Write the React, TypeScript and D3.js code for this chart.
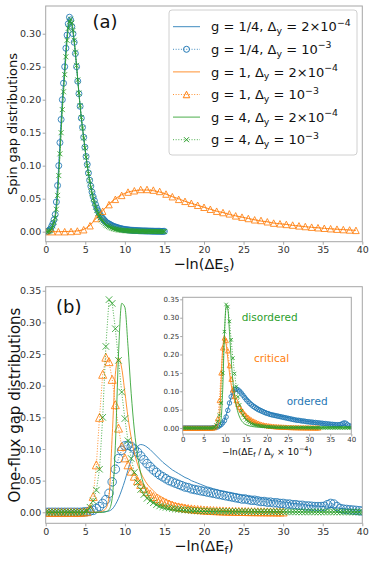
import React, { useEffect, useRef } from "react";
import * as d3 from "d3";

const FONT = "DejaVu Sans, sans-serif";
const BLUE = "#1f77b4";
const ORANGE = "#ff7f0e";
const GREEN = "#2ca02c";
const SPINE = "#a6a6a6";

// ---------- panel (a): spin gap distributions ----------
// markers for g = 1/4 and g = 4 : x = 0.15, 0.30, ... 15.0
const spinDotStart = 0.15;
const spinDotStep = 0.15;
const spinBlueDots = [
  0.000, 0.001, 0.002, 0.004, 0.008, 0.012, 0.018, 0.026, 0.045, 0.070,
  0.100, 0.135, 0.170, 0.200, 0.225, 0.250, 0.278, 0.298, 0.315, 0.325,
  0.321, 0.311, 0.300, 0.287, 0.270, 0.250, 0.228, 0.209, 0.190, 0.172,
  0.158, 0.143, 0.128, 0.114, 0.102, 0.089, 0.078, 0.069, 0.060, 0.053,
  0.047, 0.041, 0.036, 0.032, 0.028, 0.025, 0.022, 0.020, 0.018, 0.016,
  0.014, 0.013, 0.012, 0.011, 0.010, 0.009, 0.008, 0.0075, 0.007, 0.0063,
  0.0057, 0.0052, 0.0047, 0.0043, 0.0039, 0.0036, 0.0033, 0.0030, 0.0028, 0.0026,
  0.0024, 0.0022, 0.0020, 0.0019, 0.0018, 0.0017, 0.0016, 0.0015, 0.0014, 0.0013,
  0.0012, 0.0012, 0.0011, 0.0011, 0.0010, 0.0010, 0.0009, 0.0009, 0.0008, 0.0008,
  0.0007, 0.0007, 0.0007, 0.0006, 0.0006, 0.0006, 0.0005, 0.0005, 0.0005, 0.0005,
];
const spinGreenDots = [
  0.000, 0.000, 0.001, 0.002, 0.005, 0.009, 0.014, 0.021, 0.034, 0.055,
  0.085, 0.118, 0.150, 0.185, 0.212, 0.238, 0.265, 0.290, 0.308, 0.318,
  0.322, 0.316, 0.305, 0.290, 0.272, 0.252, 0.230, 0.210, 0.191, 0.173,
  0.157, 0.142, 0.127, 0.113, 0.100, 0.088, 0.077, 0.067, 0.058, 0.050,
  0.043, 0.037, 0.032, 0.028, 0.024, 0.021, 0.018, 0.016, 0.014, 0.012,
  0.010, 0.009, 0.008, 0.007, 0.006, 0.0053, 0.0047, 0.0042, 0.0037, 0.0033,
  0.0029, 0.0026, 0.0023, 0.0021, 0.0019, 0.0017, 0.0015, 0.0014, 0.0013, 0.0012,
  0.0011, 0.0010, 0.0009, 0.0009, 0.0008, 0.0008, 0.0007, 0.0007, 0.0006, 0.0006,
  0.0006, 0.0005, 0.0005, 0.0005, 0.0004, 0.0004, 0.0004, 0.0004, 0.0003, 0.0003,
  0.0003, 0.0003, 0.0003, 0.0002, 0.0002, 0.0002, 0.0002, 0.0002, 0.0002, 0.0002,
];
// lines: x = 0, 0.3, ... 15
const spinLineStart = 0;
const spinLineStep = 0.3;
const spinBlueLine = [
  0, 0.001, 0.004, 0.012, 0.026, 0.070, 0.135, 0.200, 0.250, 0.298,
  0.324, 0.312, 0.287, 0.250, 0.209, 0.172, 0.143, 0.114, 0.089, 0.069,
  0.053, 0.041, 0.032, 0.025, 0.020, 0.016, 0.013, 0.011, 0.009, 0.0075,
  0.0063, 0.0052, 0.0043, 0.0036, 0.0030, 0.0026, 0.0022, 0.0019, 0.0017, 0.0015,
  0.0013, 0.0012, 0.0011, 0.0010, 0.0009, 0.0008, 0.0007, 0.0007, 0.0006, 0.0005,
  0.0005,
];
const spinGreenLine = [
  0, 0, 0.002, 0.009, 0.021, 0.055, 0.118, 0.185, 0.238, 0.290,
  0.318, 0.316, 0.290, 0.252, 0.210, 0.173, 0.142, 0.113, 0.088, 0.067,
  0.050, 0.037, 0.028, 0.021, 0.016, 0.012, 0.009, 0.007, 0.0053, 0.0042,
  0.0033, 0.0026, 0.0021, 0.0017, 0.0014, 0.0012, 0.0010, 0.0009, 0.0008, 0.0007,
  0.0006, 0.0005, 0.0005, 0.0004, 0.0004, 0.0003, 0.0003, 0.0003, 0.0002, 0.0002,
  0.0002,
];
// g = 1 : x = 0, 0.8, ... 39.2
const spinOrangeStart = 0;
const spinOrangeStep = 0.8;
const spinOrangeLine = [
  0, 0, 0, 0.0002, 0.0005, 0.0012, 0.0035, 0.010, 0.021, 0.032,
  0.042, 0.050, 0.056, 0.060, 0.062, 0.063, 0.063, 0.062, 0.060, 0.057,
  0.053, 0.050, 0.046, 0.043, 0.040, 0.037, 0.034, 0.031, 0.029, 0.026,
  0.024, 0.022, 0.020, 0.018, 0.016, 0.015, 0.013, 0.012, 0.011, 0.0095,
  0.0085, 0.0075, 0.0066, 0.0058, 0.0050, 0.0043, 0.0037, 0.0031, 0.0025, 0.0020,
];
const spinOrangeDots = [
  0, 0, 0, 0, 0.0003, 0.001, 0.003, 0.009, 0.020, 0.031,
  0.041, 0.049, 0.055, 0.060, 0.062, 0.064, 0.064, 0.063, 0.061, 0.057,
  0.053, 0.049, 0.046, 0.043, 0.040, 0.037, 0.034, 0.031, 0.029, 0.027,
  0.024, 0.022, 0.020, 0.018, 0.017, 0.015, 0.013, 0.012, 0.011, 0.010,
  0.0088, 0.0078, 0.0068, 0.0060, 0.0052, 0.0045, 0.0038, 0.0032, 0.0026, 0.0020,
];

// ---------- panel (b): one-flux gap distributions ----------
// markers (Δy = 1e-3): x = -2.4, -2.0, ... ; lines (Δy = 2e-4): x = -0.8, -0.4, ...
const fluxDotStart = -2.4;
const fluxLineStart = -0.8;
const fluxStep = 0.4;
const fluxBlueDots = [
  0, 0, 0, 0, 0, 0, 0, 0, 0, 0,
  0, 0, 0, 0, 0, 0, 0, 0, 0.0005, 0.001,
  0.002, 0.003, 0.006, 0.009, 0.014, 0.020, 0.030, 0.048, 0.068, 0.085,
  0.098, 0.105, 0.106, 0.104, 0.100, 0.095, 0.089, 0.083, 0.077, 0.072,
  0.067, 0.063, 0.059, 0.056, 0.053, 0.050, 0.048, 0.046, 0.044, 0.042,
  0.040, 0.039, 0.037, 0.036, 0.035, 0.034, 0.033, 0.032, 0.031, 0.030,
  0.029, 0.028, 0.027, 0.026, 0.025, 0.024, 0.023, 0.022, 0.021, 0.021,
  0.020, 0.019, 0.019, 0.018, 0.017, 0.017, 0.016, 0.016, 0.015, 0.015,
  0.014, 0.014, 0.013, 0.013, 0.012, 0.012, 0.011, 0.011, 0.010, 0.010,
  0.0095, 0.009, 0.009, 0.009, 0.0095, 0.012, 0.014, 0.013, 0.009, 0.006,
  0.005, 0.0045, 0.004, 0.0035, 0.003, 0.0025, 0.002,
];
const fluxBlueLine = [
  0, 0, 0, 0, 0, 0, 0, 0, 0, 0,
  0, 0, 0, 0, 0, 0, 0, 0, 0, 0,
  0.0005, 0.001, 0.002, 0.005, 0.012, 0.022, 0.035, 0.050, 0.067, 0.083,
  0.096, 0.104, 0.107, 0.106, 0.103, 0.099, 0.094, 0.089, 0.084, 0.079,
  0.075, 0.071, 0.067, 0.064, 0.061, 0.058, 0.055, 0.053, 0.050, 0.048,
  0.046, 0.044, 0.042, 0.040, 0.039, 0.037, 0.036, 0.034, 0.033, 0.032,
  0.031, 0.030, 0.029, 0.028, 0.027, 0.026, 0.025, 0.024, 0.023, 0.022,
  0.021, 0.021, 0.020, 0.019, 0.018, 0.018, 0.017, 0.016, 0.016, 0.015,
  0.014, 0.014, 0.013, 0.013, 0.012, 0.011, 0.011, 0.010, 0.010, 0.009,
  0.009, 0.008, 0.008, 0.007, 0.007, 0.006, 0.006, 0.005, 0.005, 0.004,
  0.004, 0.003, 0.003,
];
const fluxOrangeDots = [
  0, 0, 0, 0, 0, 0, 0, 0, 0, 0,
  0, 0, 0, 0, 0, 0, 0, 0, 0.0005, 0.001,
  0.006, 0.025, 0.075, 0.150, 0.218, 0.245, 0.238, 0.210, 0.170, 0.133,
  0.104, 0.086, 0.075, 0.065, 0.057, 0.050, 0.044, 0.038, 0.033, 0.029,
  0.025, 0.022, 0.019, 0.017, 0.015, 0.013, 0.011, 0.0095, 0.0085, 0.0075,
  0.0067, 0.0060, 0.0054, 0.0049, 0.0044, 0.0040, 0.0036, 0.0033, 0.0030, 0.0027,
  0.0025, 0.0023, 0.0021, 0.0019, 0.0018, 0.0016, 0.0015, 0.0014, 0.0013, 0.0012,
  0.0011, 0.0010, 0.0010, 0.0009, 0.0008, 0.0008, 0.0007, 0.0007, 0.0006, 0.0006,
  0.0005, 0.0005,
];
const fluxOrangeLine = [
  0, 0, 0, 0, 0, 0, 0, 0, 0, 0,
  0, 0, 0, 0, 0, 0, 0, 0, 0, 0.0005,
  0.002, 0.006, 0.025, 0.120, 0.218, 0.244, 0.228, 0.190, 0.150, 0.118,
  0.094, 0.076, 0.063, 0.053, 0.045, 0.039, 0.034, 0.029, 0.026, 0.023,
  0.020, 0.018, 0.016, 0.014, 0.013, 0.012, 0.011, 0.0095, 0.0085, 0.0077,
  0.0070, 0.0063, 0.0057, 0.0052, 0.0047, 0.0043, 0.0039, 0.0035, 0.0032, 0.0029,
  0.0027, 0.0025, 0.0023, 0.0021, 0.0019, 0.0018, 0.0016, 0.0015, 0.0014, 0.0013,
  0.0012, 0.0011, 0.0010, 0.0010, 0.0009, 0.0008, 0.0008, 0.0007,
];
const fluxGreenDots = [
  0, 0, 0, 0, 0, 0, 0, 0, 0, 0,
  0, 0, 0, 0, 0, 0, 0, 0, 0, 0.002,
  0.008, 0.018, 0.035, 0.068, 0.150, 0.262, 0.336, 0.330, 0.290, 0.240,
  0.190, 0.148, 0.113, 0.085, 0.063, 0.047, 0.036, 0.028, 0.022, 0.018,
  0.015, 0.012, 0.010, 0.0088, 0.0077, 0.0068, 0.0060, 0.0053, 0.0047, 0.0042,
  0.0037, 0.0033, 0.0030, 0.0027, 0.0024, 0.0022, 0.0020, 0.0019, 0.0018, 0.0017,
  0.0016, 0.0015, 0.0014, 0.0013, 0.0013, 0.0012, 0.0012, 0.0011, 0.0011, 0.0010,
  0.0010, 0.0010, 0.0009, 0.0009, 0.0009, 0.0008, 0.0008, 0.0008, 0.0007, 0.0007,
  0.0007, 0.0007, 0.0006, 0.0006, 0.0006, 0.0006, 0.0006, 0.0005, 0.0005, 0.0005,
  0.0005, 0.0005, 0.0005, 0.0005, 0.0005, 0.0005, 0.0005, 0.0005, 0.0005, 0.0005,
  0.0004, 0.0004, 0.0004, 0.0004, 0.0004, 0.0004, 0.0004,
];
const fluxGreenLine = [
  0, 0, 0, 0, 0, 0, 0, 0, 0, 0,
  0, 0, 0, 0, 0, 0, 0, 0, 0, 0,
  0, 0.001, 0.004, 0.022, 0.105, 0.250, 0.330, 0.324, 0.262, 0.188,
  0.130, 0.090, 0.062, 0.043, 0.030, 0.021, 0.015, 0.011, 0.0085, 0.0067,
  0.0054, 0.0044, 0.0037, 0.0031, 0.0027, 0.0024, 0.0021, 0.0019, 0.0017, 0.0016,
  0.0015, 0.0014, 0.0013, 0.0012, 0.0011, 0.0010, 0.0010, 0.0009, 0.0009, 0.0008,
  0.0008, 0.0008, 0.0007, 0.0007, 0.0007, 0.0006, 0.0006, 0.0006, 0.0005, 0.0005,
  0.0005, 0.0005, 0.0005, 0.0005, 0.0005, 0.0005, 0.0005, 0.0005, 0.0005, 0.0005,
  0.0005, 0.0005, 0.0005, 0.0005, 0.0005, 0.0005, 0.0005, 0.0005, 0.0005, 0.0005,
  0.0004, 0.0004, 0.0004, 0.0004, 0.0004, 0.0004, 0.0004, 0.0004, 0.0004, 0.0004,
  0.0004, 0.0004, 0.0004,
];
// inset abscissa: -ln(ΔE_f / Δy × 10^-4) = -ln(ΔE_f) + ln(Δy · 10^4)
const insetShiftLine = Math.log(2e-4 * 1e4);
const insetShiftDots = Math.log(1e-3 * 1e4);

const xTicks = [0, 5, 10, 15, 20, 25, 30, 35, 40];
const spinYTicks = [0, 0.05, 0.1, 0.15, 0.2, 0.25, 0.3];
const fluxYTicks = [0, 0.05, 0.1, 0.15, 0.2, 0.25, 0.3, 0.35];

type Part = [string, "" | "sub" | "sup"];
const legendLabels: Part[][] = [
  [["g = 1/4, Δ", ""], ["y", "sub"], [" = 2×10", ""], ["−4", "sup"]],
  [["g = 1/4, Δ", ""], ["y", "sub"], [" = 10", ""], ["−3", "sup"]],
  [["g = 1, Δ", ""], ["y", "sub"], [" = 2×10", ""], ["−4", "sup"]],
  [["g = 1, Δ", ""], ["y", "sub"], [" = 10", ""], ["−3", "sup"]],
  [["g = 4, Δ", ""], ["y", "sub"], [" = 2×10", ""], ["−4", "sup"]],
  [["g = 4, Δ", ""], ["y", "sub"], [" = 10", ""], ["−3", "sup"]],
];
const regimeLabels = ["disordered", "critical", "ordered"];

type Mk = "o" | "^" | "x" | null;

const toPts = (start: number, step: number, ys: number[], shift = 0) =>
  ys.map((v, i) => [start + i * step + shift, v] as [number, number]);

const markerPath = (m: Mk, s: number) => {
  const h = s / 2;
  if (m === "o") return `M${h},0A${h},${h} 0 1,1 ${-h},0A${h},${h} 0 1,1 ${h},0Z`;
  if (m === "^") return `M0,${-h}L${-h},${h}L${h},${h}Z`;
  return `M${-h},${-h}L${h},${h}M${-h},${h}L${h},${-h}`;
};

const rich = (t: any, parts: Part[], fs: number) => {
  let cur = 0;
  parts.forEach(([s, k]) => {
    const target = k === "sub" ? fs * 0.22 : k === "sup" ? -fs * 0.42 : 0;
    t.append("tspan")
      .attr("dy", target - cur)
      .attr("font-size", k ? fs * 0.72 : fs)
      .text(s);
    cur = target;
  });
};

const series = (
  g: any, x: any, y: any, pts: [number, number][],
  color: string, dotted: boolean, mk: Mk, size: number, smooth = false
) => {
  const line = d3.line<[number, number]>()
    .x((d) => x(d[0]))
    .y((d) => y(d[1]))
    .curve(smooth ? d3.curveMonotoneX : d3.curveLinear);
  g.append("path")
    .datum(pts)
    .attr("fill", "none")
    .attr("stroke", color)
    .attr("stroke-width", 1)
    .attr("stroke-opacity", 0.85)
    .attr("stroke-dasharray", dotted ? "1 1.65" : null)
    .attr("d", line);
  if (mk) {
    g.append("g")
      .selectAll("path")
      .data(pts)
      .join("path")
      .attr("transform", (d: [number, number]) => `translate(${x(d[0])},${y(d[1])})`)
      .attr("d", markerPath(mk, size))
      .attr("fill", "none")
      .attr("stroke", color)
      .attr("stroke-opacity", 0.85)
      .attr("stroke-width", 1);
  }
};

type Box = { l: number; r: number; t: number; b: number; y0: number; y1: number };

const axes = (
  svg: any, defs: any, id: string, box: Box, yTicks: number[],
  fs: number, tick: number, pad: number, bg = false
) => {
  const x = d3.scaleLinear().domain([0, 40]).range([box.l, box.r]);
  const y = d3.scaleLinear().domain([box.y0, box.y1]).range([box.b, box.t]);
  defs.append("clipPath").attr("id", id).append("rect")
    .attr("x", box.l).attr("y", box.t)
    .attr("width", box.r - box.l).attr("height", box.b - box.t);
  if (bg) {
    svg.append("rect").attr("x", box.l).attr("y", box.t)
      .attr("width", box.r - box.l).attr("height", box.b - box.t).attr("fill", "#fff");
  }
  const style = (a: any) => {
    a.attr("font-family", FONT).attr("font-size", fs);
    a.select(".domain").remove();
    a.selectAll(".tick line").attr("stroke", SPINE);
    a.selectAll(".tick text").attr("fill", "#333");
  };
  svg.append("g").attr("transform", `translate(0,${box.b})`)
    .call(d3.axisBottom(x).tickValues(xTicks).tickFormat(d3.format("d")).tickSize(tick).tickPadding(pad))
    .call(style);
  svg.append("g").attr("transform", `translate(${box.l},0)`)
    .call(d3.axisLeft(y).tickValues(yTicks).tickFormat(d3.format(".2f")).tickSize(tick).tickPadding(pad))
    .call(style);
  const plot = svg.append("g").attr("clip-path", `url(#${id})`);
  const frame = () =>
    svg.append("rect").attr("x", box.l).attr("y", box.t)
      .attr("width", box.r - box.l).attr("height", box.b - box.t)
      .attr("fill", "none").attr("stroke", SPINE).attr("stroke-width", 1);
  return { x, y, plot, frame };
};

const drawChart = (el: SVGSVGElement) => {
  const svg = d3.select(el);
  svg.selectAll("*").remove();
  svg.attr("font-family", FONT);
  const defs = svg.append("defs");

  // ---------- (a) ----------
  const A = axes(svg, defs, "clipA",
    { l: 45.7, r: 362.3, t: 6, b: 241.7, y0: -0.0152, y1: 0.342 },
    spinYTicks, 9.5, 3, 1.5);
  series(A.plot, A.x, A.y, toPts(spinLineStart, spinLineStep, spinBlueLine), BLUE, false, null, 0, true);
  series(A.plot, A.x, A.y, toPts(spinDotStart, spinDotStep, spinBlueDots), BLUE, true, "o", 6);
  series(A.plot, A.x, A.y, toPts(spinOrangeStart, spinOrangeStep, spinOrangeLine), ORANGE, false, null, 0, true);
  series(A.plot, A.x, A.y, toPts(spinOrangeStart, spinOrangeStep, spinOrangeDots), ORANGE, true, "^", 6.5);
  series(A.plot, A.x, A.y, toPts(spinLineStart, spinLineStep, spinGreenLine), GREEN, false, null, 0, true);
  series(A.plot, A.x, A.y, toPts(spinDotStart, spinDotStep, spinGreenDots), GREEN, true, "x", 5);
  A.frame();

  svg.append("text").attr("x", 92.5).attr("y", 28).attr("font-size", 18).attr("fill", "#111").text("(a)");

  // legend
  const lg = svg.append("g");
  lg.append("rect").attr("x", 169).attr("y", 10).attr("width", 188).attr("height", 145)
    .attr("rx", 3).attr("fill", "#fff").attr("fill-opacity", 0.85).attr("stroke", "#d0d0d0");
  const legendStyle: [string, boolean, Mk, number][] = [
    [BLUE, false, null, 0], [BLUE, true, "o", 6],
    [ORANGE, false, null, 0], [ORANGE, true, "^", 6.5],
    [GREEN, false, null, 0], [GREEN, true, "x", 5],
  ];
  legendLabels.forEach((parts, i) => {
    const cy = 26.7 + i * 22.6;
    const [c, dotted, mk, sz] = legendStyle[i];
    lg.append("line").attr("x1", 173).attr("x2", 200).attr("y1", cy).attr("y2", cy)
      .attr("stroke", c).attr("stroke-opacity", 0.85).attr("stroke-width", 1)
      .attr("stroke-dasharray", dotted ? "1 1.65" : null);
    if (mk) {
      lg.append("path").attr("transform", `translate(186.5,${cy})`).attr("d", markerPath(mk, sz))
        .attr("fill", "none").attr("stroke", c).attr("stroke-width", 1);
    }
    const t = lg.append("text").attr("x", 211).attr("y", cy + 4.6).attr("font-size", 13).attr("fill", "#111");
    rich(t, parts, 13);
  });

  const ta = svg.append("text").attr("x", 204).attr("y", 268.5).attr("text-anchor", "middle").attr("font-size", 14.5).attr("fill", "#111");
  rich(ta, [["−ln(ΔE", ""], ["s", "sub"], [")", ""]], 14.5);
  svg.append("text").attr("transform", "translate(17,124) rotate(-90)").attr("text-anchor", "middle")
    .attr("font-size", 13).attr("fill", "#111").text("Spin gap distributions");

  // ---------- (b) ----------
  const B = axes(svg, defs, "clipB",
    { l: 45.7, r: 362.3, t: 286.7, b: 523.3, y0: -0.0174, y1: 0.3564 },
    fluxYTicks, 9.5, 3, 1.5);
  series(B.plot, B.x, B.y, toPts(fluxLineStart, fluxStep, fluxBlueLine), BLUE, false, null, 0, true);
  series(B.plot, B.x, B.y, toPts(fluxDotStart, fluxStep, fluxBlueDots), BLUE, true, "o", 8.5);
  series(B.plot, B.x, B.y, toPts(fluxLineStart, fluxStep, fluxOrangeLine), ORANGE, false, null, 0, true);
  series(B.plot, B.x, B.y, toPts(fluxDotStart, fluxStep, fluxOrangeDots), ORANGE, true, "^", 8);
  series(B.plot, B.x, B.y, toPts(fluxLineStart, fluxStep, fluxGreenLine), GREEN, false, null, 0, true);
  series(B.plot, B.x, B.y, toPts(fluxDotStart, fluxStep, fluxGreenDots), GREEN, true, "x", 6.5);
  B.frame();

  svg.append("text").attr("x", 56).attr("y", 313).attr("font-size", 18).attr("fill", "#111").text("(b)");
  const tb = svg.append("text").attr("x", 204).attr("y", 550.5).attr("text-anchor", "middle").attr("font-size", 14.5).attr("fill", "#111");
  rich(tb, [["−ln(ΔE", ""], ["f", "sub"], [")", ""]], 14.5);
  svg.append("text").attr("transform", "translate(19.5,405) rotate(-90)").attr("text-anchor", "middle")
    .attr("font-size", 15).attr("fill", "#111").text("One-flux gap distributions");

  // ---------- inset ----------
  const I = axes(svg, defs, "clipI",
    { l: 182.7, r: 351.3, t: 297.3, b: 434, y0: -0.0163, y1: 0.3555 },
    fluxYTicks, 7, 2.5, 1, true);
  series(I.plot, I.x, I.y, toPts(fluxLineStart, fluxStep, fluxBlueLine, insetShiftLine), BLUE, false, null, 0, true);
  series(I.plot, I.x, I.y, toPts(fluxDotStart, fluxStep, fluxBlueDots, insetShiftDots), BLUE, true, "o", 4.5);
  series(I.plot, I.x, I.y, toPts(fluxLineStart, fluxStep, fluxOrangeLine, insetShiftLine), ORANGE, false, null, 0, true);
  series(I.plot, I.x, I.y, toPts(fluxDotStart, fluxStep, fluxOrangeDots, insetShiftDots), ORANGE, true, "^", 4.5);
  series(I.plot, I.x, I.y, toPts(fluxLineStart, fluxStep, fluxGreenLine, insetShiftLine), GREEN, false, null, 0, true);
  series(I.plot, I.x, I.y, toPts(fluxDotStart, fluxStep, fluxGreenDots, insetShiftDots), GREEN, true, "x", 3.5);
  I.frame();

  const ti = svg.append("text").attr("x", 267).attr("y", 455).attr("text-anchor", "middle").attr("font-size", 9).attr("fill", "#111");
  rich(ti, [["−ln(ΔE", ""], ["f", "sub"], [" / Δ", ""], ["y", "sub"], [" × 10", ""], ["−4", "sup"], [")", ""]], 9);

  const regimePos: [number, number, string][] = [[241.7, 321, GREEN], [254, 362, ORANGE], [286.7, 404.5, BLUE]];
  regimeLabels.forEach((s, i) => {
    const [px, py, c] = regimePos[i];
    svg.append("text").attr("x", px).attr("y", py).attr("font-size", 10.5).attr("fill", c).text(s);
  });
};

export default function App() {
  const ref = useRef<SVGSVGElement>(null);
  useEffect(() => {
    if (ref.current) drawChart(ref.current);
  }, []);
  return (
    <svg
      ref={ref}
      width={374}
      height={561}
      style={{ position: "absolute", left: 0, top: 0, background: "#fff" }}
    />
  );
}
